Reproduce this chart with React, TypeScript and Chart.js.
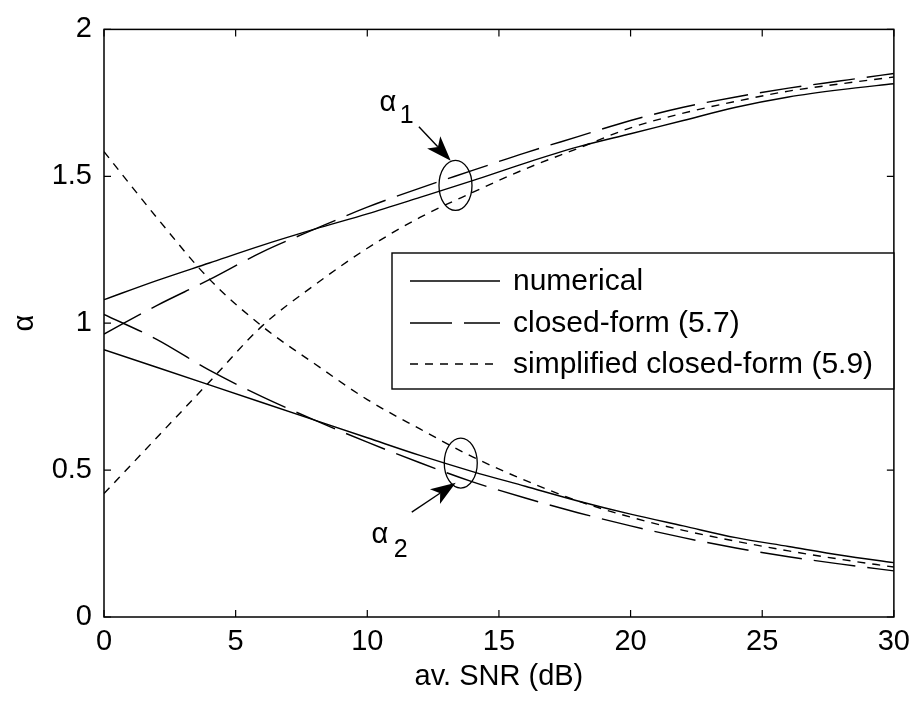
import React, { useEffect, useRef } from "react";
import { Chart, registerables } from "chart.js";

Chart.register(...registerables);

// ---- data ----
const snrDb = [0, 2, 4, 6, 8, 10, 12, 14, 16, 18, 20, 22, 24, 26, 28, 30];

const numericalAlpha1 = [1.08, 1.145, 1.205, 1.265, 1.32, 1.372, 1.428, 1.485, 1.545, 1.6, 1.645, 1.69, 1.735, 1.77, 1.795, 1.815];
const closedFormAlpha1 = [0.963, 1.06, 1.148, 1.242, 1.32, 1.395, 1.46, 1.52, 1.58, 1.635, 1.69, 1.735, 1.77, 1.8, 1.825, 1.85];
const simplifiedAlpha1 = [0.42, 0.61, 0.8, 0.99, 1.13, 1.255, 1.36, 1.445, 1.525, 1.595, 1.665, 1.715, 1.755, 1.79, 1.815, 1.838];

const numericalAlpha2 = [0.91, 0.85, 0.79, 0.73, 0.67, 0.61, 0.55, 0.495, 0.445, 0.395, 0.35, 0.31, 0.27, 0.24, 0.21, 0.185];
const closedFormAlpha2 = [1.03, 0.945, 0.84, 0.75, 0.67, 0.595, 0.525, 0.46, 0.405, 0.355, 0.31, 0.27, 0.235, 0.205, 0.18, 0.157];
const simplifiedAlpha2 = [1.584, 1.36, 1.15, 0.99, 0.862, 0.74, 0.64, 0.545, 0.465, 0.395, 0.34, 0.295, 0.258, 0.225, 0.196, 0.17];

const xTicks = [0, 5, 10, 15, 20, 25, 30];
const yTicks = [0, 0.5, 1, 1.5, 2];
const legendLabels = ["numerical", "closed-form (5.7)", "simplified closed-form (5.9)"];
const xTitle = "av. SNR (dB)";
const yTitle = "α";

// ---- styles ----
const FONT = "'Liberation Sans', Arial, Helvetica, sans-serif";
const SOLID: number[] = [];
const LONG_DASH = [42, 12];
const SHORT_DASH = [8, 7];
const styles = [SOLID, LONG_DASH, SHORT_DASH];

const toPoints = (ys: number[]) => snrDb.map((x, i) => ({ x, y: ys[i] }));

const mkDataset = (label: string, ys: number[], dash: number[]) => ({
  label,
  data: toPoints(ys),
  borderColor: "#000",
  borderWidth: 1.4,
  borderDash: dash,
  pointRadius: 0,
  fill: false,
  cubicInterpolationMode: "monotone" as const,
});

function drawArrow(ctx: CanvasRenderingContext2D, x1: number, y1: number, x2: number, y2: number) {
  const ang = Math.atan2(y2 - y1, x2 - x1);
  const headLen = 25;
  const halfW = 9;
  const bx = x2 - headLen * Math.cos(ang);
  const by = y2 - headLen * Math.sin(ang);
  ctx.beginPath();
  ctx.setLineDash([]);
  ctx.lineWidth = 1.4;
  ctx.moveTo(x1, y1);
  ctx.lineTo(bx + 6 * Math.cos(ang), by + 6 * Math.sin(ang));
  ctx.stroke();
  const px = -Math.sin(ang);
  const py = Math.cos(ang);
  const nx = x2 - headLen * 0.75 * Math.cos(ang);
  const ny = y2 - headLen * 0.75 * Math.sin(ang);
  ctx.beginPath();
  ctx.moveTo(x2, y2);
  ctx.lineTo(bx + px * halfW, by + py * halfW);
  ctx.lineTo(nx, ny);
  ctx.lineTo(bx - px * halfW, by - py * halfW);
  ctx.closePath();
  ctx.fill();
}

const decorPlugin = {
  id: "matlabDecor",
  afterDraw(chart: any) {
    const ctx: CanvasRenderingContext2D = chart.ctx;
    const { left, right, top, bottom } = chart.chartArea;
    const xs = chart.scales.x;
    const ys = chart.scales.y;
    ctx.save();
    ctx.strokeStyle = "#000";
    ctx.fillStyle = "#000";
    ctx.setLineDash([]);

    // axes box
    ctx.lineWidth = 1.5;
    ctx.strokeRect(left, top, right - left, bottom - top);

    // inward ticks on all sides
    const tl = 7;
    ctx.lineWidth = 1.2;
    ctx.beginPath();
    xTicks.forEach((t) => {
      const x = xs.getPixelForValue(t);
      ctx.moveTo(x, bottom);
      ctx.lineTo(x, bottom - tl);
      ctx.moveTo(x, top);
      ctx.lineTo(x, top + tl);
    });
    yTicks.forEach((t) => {
      const y = ys.getPixelForValue(t);
      ctx.moveTo(left, y);
      ctx.lineTo(left + tl, y);
      ctx.moveTo(right, y);
      ctx.lineTo(right - tl, y);
    });
    ctx.stroke();

    // ellipses around curve groups
    const ellipse = (xv: number, yv: number) => {
      ctx.beginPath();
      ctx.lineWidth = 1.3;
      ctx.ellipse(xs.getPixelForValue(xv), ys.getPixelForValue(yv), 16.5, 25, 0, 0, Math.PI * 2);
      ctx.stroke();
    };
    ellipse(13.35, 1.469);
    ellipse(13.55, 0.524);

    // arrows
    drawArrow(ctx, xs.getPixelForValue(11.96), ys.getPixelForValue(1.669), xs.getPixelForValue(13.17), ys.getPixelForValue(1.553));
    drawArrow(ctx, xs.getPixelForValue(11.69), ys.getPixelForValue(0.357), xs.getPixelForValue(13.36), ys.getPixelForValue(0.457));

    // alpha labels
    ctx.textAlign = "center";
    ctx.textBaseline = "middle";
    ctx.font = `29px ${FONT}`;
    ctx.fillText("α", xs.getPixelForValue(10.78), ys.getPixelForValue(1.75));
    ctx.fillText("α", xs.getPixelForValue(10.48), ys.getPixelForValue(0.28));
    ctx.font = `25px ${FONT}`;
    ctx.fillText("1", xs.getPixelForValue(11.5), ys.getPixelForValue(1.706));
    ctx.fillText("2", xs.getPixelForValue(11.27), ys.getPixelForValue(0.227));

    // legend box
    const lx0 = 392, lx1 = right, ly0 = 253, ly1 = 389;
    ctx.fillStyle = "#fff";
    ctx.fillRect(lx0, ly0, lx1 - lx0, ly1 - ly0);
    ctx.lineWidth = 1.4;
    ctx.strokeRect(lx0, ly0, lx1 - lx0, ly1 - ly0);
    const rowY = [281, 323, 364];
    ctx.font = `30px ${FONT}`;
    ctx.textAlign = "left";
    ctx.textBaseline = "middle";
    legendLabels.forEach((lab, i) => {
      ctx.beginPath();
      ctx.lineWidth = 1.4;
      ctx.setLineDash(styles[i]);
      ctx.moveTo(410, rowY[i]);
      ctx.lineTo(500, rowY[i]);
      ctx.stroke();
      ctx.setLineDash([]);
      ctx.fillStyle = "#000";
      ctx.fillText(lab, 513, rowY[i] + 1);
    });
    ctx.restore();
  },
};

export default function App() {
  const ref = useRef<HTMLCanvasElement | null>(null);
  useEffect(() => {
    if (!ref.current) return;
    const chart = new Chart(ref.current, {
      type: "line",
      data: {
        datasets: [
          mkDataset(legendLabels[0], numericalAlpha1, SOLID),
          mkDataset(legendLabels[1], closedFormAlpha1, LONG_DASH),
          mkDataset(legendLabels[2], simplifiedAlpha1, SHORT_DASH),
          mkDataset(legendLabels[0], numericalAlpha2, SOLID),
          mkDataset(legendLabels[1], closedFormAlpha2, LONG_DASH),
          mkDataset(legendLabels[2], simplifiedAlpha2, SHORT_DASH),
        ],
      },
      options: {
        animation: false,
        responsive: false,
        layout: { padding: { top: 18, right: 21, left: 0, bottom: 0 } },
        plugins: { legend: { display: false }, tooltip: { enabled: false } },
        scales: {
          x: {
            type: "linear",
            min: 0,
            max: 30,
            afterBuildTicks: (s: any) => { s.ticks = xTicks.map((v) => ({ value: v })); },
            ticks: { color: "#000", font: { size: 29, family: FONT }, padding: 8, maxRotation: 0, callback: (v: any) => String(v) },
            grid: { display: false, drawTicks: false },
            border: { display: false },
            title: { display: true, text: xTitle, color: "#000", font: { size: 29, family: FONT, lineHeight: 1.2 }, padding: { top: 0, bottom: 11 } },
            afterFit: (s: any) => { s.height = 88; },
          },
          y: {
            type: "linear",
            min: 0,
            max: 2,
            afterBuildTicks: (s: any) => { s.ticks = yTicks.map((v) => ({ value: v })); },
            ticks: { color: "#000", font: { size: 29, family: FONT }, padding: 12, callback: (v: any) => String(v) },
            grid: { display: false, drawTicks: false },
            border: { display: false },
            title: { display: true, text: yTitle, color: "#000", font: { size: 29, family: FONT, lineHeight: 1.2 }, padding: { top: 8, bottom: 0 } },
            afterFit: (s: any) => { s.width = 104; },
          },
        },
      } as any,
      plugins: [decorPlugin],
    });
    return () => chart.destroy();
  }, []);
  return (
    <div style={{ position: "absolute", left: 0, top: 0, width: 918, height: 705, background: "#fff" }}>
      <canvas ref={ref} width={918} height={705} style={{ display: "block" }} />
    </div>
  );
}
